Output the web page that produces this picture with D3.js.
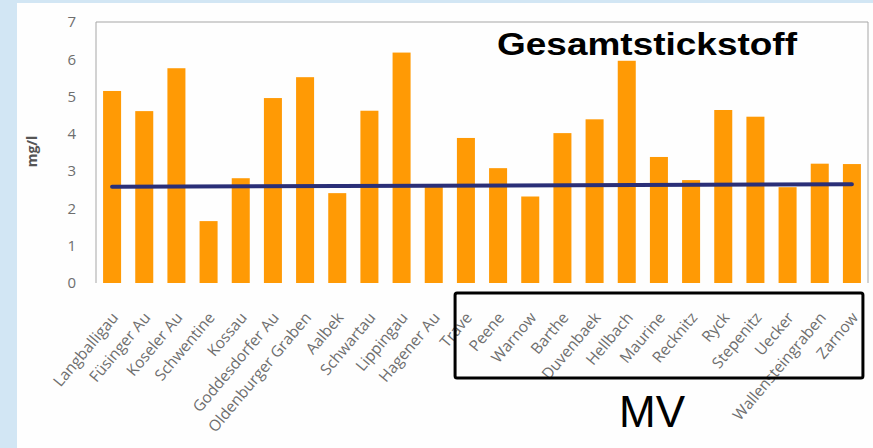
<!DOCTYPE html>
<html>
<head>
<meta charset="UTF-8">
<script src="https://d3js.org/d3.v7.min.js"></script>
<style>
    body { margin: 0; background: #d2e6f4; }
    svg { display: block; }
</style>
</head>
<body>
<div id="viz"></div>
<script>
    // river names, Gesamtstickstoff in mg/l
    const rivers = ["Langballigau", "Füsinger Au", "Koseler Au", "Schwentine", "Kossau",
        "Goddesdorfer Au", "Oldenburger Graben", "Aalbek", "Schwartau", "Lippingau",
        "Hagener Au", "Trave", "Peene", "Warnow", "Barthe", "Duvenbaek", "Hellbach",
        "Maurine", "Recknitz", "Ryck", "Stepenitz", "Uecker", "Wallensteingraben", "Zarnow"];
    const nitrogen = [5.15, 4.61, 5.76, 1.66, 2.81, 4.96, 5.52, 2.41, 4.62, 6.18,
        2.58, 3.89, 3.08, 2.32, 4.02, 4.39, 5.96, 3.38, 2.76, 4.64, 4.46, 2.57, 3.2, 3.19];
    // navy reference line, first and last river
    const refRivers = ["Langballigau", "Zarnow"];
    const refValues = [2.58, 2.65];
    const yTicks = [0, 1, 2, 3, 4, 5, 6, 7];
    const mvRivers = ["Peene", "Zarnow"];

    const width = 873, height = 448;
    const plot = { left: 96, right: 868, top: 22, bottom: 283 };

    const svg = d3.select("#viz").append("svg")
        .attr("width", width)
        .attr("height", height);

    // white panel over the light blue background
    svg.append("rect")
        .attr("x", 17).attr("y", 3)
        .attr("width", width - 17).attr("height", height - 3)
        .attr("fill", "#fefefe");

    const x = d3.scaleBand()
        .domain(rivers)
        .range([plot.left, plot.right])
        .paddingInner(0.44)
        .paddingOuter(0.22);

    const y = d3.scaleLinear()
        .domain([0, 7])
        .range([plot.bottom, plot.top]);

    // plot frame
    svg.append("path")
        .attr("d", `M${plot.left},${plot.bottom}V${plot.top}H${plot.right}V${plot.bottom}`)
        .attr("fill", "none")
        .attr("stroke", "#a6a6a6")
        .attr("stroke-width", 1);

    // y axis labels
    const yAxis = svg.append("g")
        .attr("transform", `translate(${plot.left - 20},0)`)
        .call(d3.axisLeft(y).tickValues(yTicks).tickFormat(d3.format("d")).tickSize(0).tickPadding(0));
    yAxis.select(".domain").remove();
    yAxis.selectAll("text")
        .attr("fill", "#6e6e6e")
        .style("font-family", "'Open Sans', sans-serif")
        .style("font-size", "15px");

    svg.append("text")
        .attr("transform", `translate(37,${(plot.top + plot.bottom) / 2 - 1}) rotate(-90)`)
        .attr("text-anchor", "middle")
        .attr("fill", "#555")
        .style("font-family", "'Open Sans', sans-serif")
        .style("font-weight", "bold")
        .style("font-size", "14px")
        .text("mg/l");

    // bars
    svg.selectAll(".bar")
        .data(rivers)
        .enter()
        .append("rect")
        .attr("class", "bar")
        .attr("x", d => x(d))
        .attr("width", x.bandwidth())
        .attr("y", (d, i) => y(nitrogen[i]))
        .attr("height", (d, i) => y(0) - y(nitrogen[i]))
        .attr("fill", "#ff9a05");

    // reference line
    const line = d3.line()
        .x(d => x(d[0]) + x.bandwidth() / 2)
        .y(d => y(d[1]));
    svg.append("path")
        .datum(refRivers.map((r, i) => [r, refValues[i]]))
        .attr("d", line)
        .attr("fill", "none")
        .attr("stroke", "#2a2f78")
        .attr("stroke-width", 4)
        .attr("stroke-linecap", "round");

    // x labels, rotated
    svg.selectAll(".xlabel")
        .data(rivers)
        .enter()
        .append("text")
        .attr("class", "xlabel")
        .attr("transform", d => `translate(${x(d) + x.bandwidth() / 2 + 7},${plot.bottom + 35}) rotate(-50)`)
        .attr("text-anchor", "end")
        .attr("fill", "#6e6e6e")
        .style("font-family", "'Open Sans', sans-serif")
        .style("font-size", "15.5px")
        .text(d => d);

    // title
    svg.append("text")
        .attr("x", 647)
        .attr("y", 55)
        .attr("text-anchor", "middle")
        .attr("textLength", 300)
        .attr("lengthAdjust", "spacingAndGlyphs")
        .style("font-family", "'Liberation Sans', Arial, sans-serif")
        .style("font-weight", "bold")
        .style("font-size", "32px")
        .text("Gesamtstickstoff");

    // MV box
    const mvLeft = x(mvRivers[0]) - 34;
    const mvRight = x(mvRivers[1]) + x.bandwidth() + 2;
    svg.append("rect")
        .attr("x", mvLeft)
        .attr("y", 293)
        .attr("width", mvRight - mvLeft)
        .attr("height", 85)
        .attr("rx", 2)
        .attr("fill", "none")
        .attr("stroke", "#000")
        .attr("stroke-width", 3);

    svg.append("text")
        .attr("x", 652)
        .attr("y", 427)
        .attr("text-anchor", "middle")
        .style("font-family", "'Liberation Sans', Arial, sans-serif")
        .style("font-size", "44px")
        .text("MV");
</script>
</body>
</html>
